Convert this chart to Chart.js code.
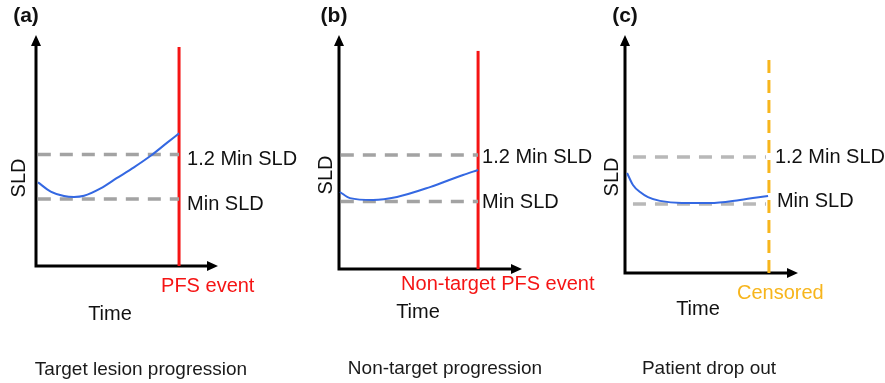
<!DOCTYPE html>
<html>
<head>
<meta charset="utf-8">
<script src="https://cdn.jsdelivr.net/npm/chart.js@4.4.1/dist/chart.umd.min.js"></script>
<style>
  html, body { margin: 0; padding: 0; background: #fff; }
  #wrap { position: relative; width: 885px; height: 383px; }
  #wrap canvas { position: absolute; left: 0; top: 0; }
</style>
</head>
<body>
<div id="wrap">
  <canvas id="chartA" width="885" height="383"></canvas>
  <canvas id="chartB" width="885" height="383"></canvas>
  <canvas id="chartC" width="885" height="383"></canvas>
</div>
<script>
// ---- data (arbitrary units, axes run 0..10) ----
const panelLabels = ['(a)', '(b)', '(c)'];
const captions = ['Target lesion progression', 'Non-target progression', 'Patient drop out'];
const eventLabels = ['PFS event', 'Non-target PFS event', 'Censored'];
const thresholdLabels = ['1.2 Min SLD', 'Min SLD'];
const axisLabels = ['Time', 'SLD'];

const timeA = [0.11, 0.81, 1.54, 2.09, 2.64, 3.55, 4.43, 5.38, 6.30, 7.21, 7.86];
const sldA  = [3.62, 3.22, 3.03, 2.99, 3.04, 3.36, 3.80, 4.27, 4.77, 5.34, 5.74];
const timeB = [0.05, 0.60, 1.86, 3.17, 4.97, 6.78, 7.60];
const sldB  = [3.29, 3.03, 2.95, 3.08, 3.50, 4.02, 4.23];
const timeC = [0.12, 0.46, 0.87, 1.33, 2.02, 3.29, 4.91, 6.65, 8.27];
const sldC  = [4.20, 3.70, 3.40, 3.19, 3.03, 2.94, 2.94, 3.07, 3.24];

const minSld   = [2.90, 2.88, 2.90];
const minSld12 = [4.83, 4.87, 4.87];
const eventTime = [7.86, 7.60, 8.32];
const eventTop  = [9.48, 9.32, 9.24];
const dashFrom  = [0.1, 0.1, 0.46];
const dashTo    = [7.86, 7.60, 8.15];

const times = [timeA, timeB, timeC];
const slds = [sldA, sldB, sldC];

// ---- layout / styling per panel ----
const W = 885, H = 383;
const FONT = '"Liberation Sans", Arial, sans-serif';
const layouts = [
  { id: 'chartA', left: 36, right: 218, top: 35, bottom: 266,
    eventColor: '#f51414', eventDash: [], gray: '#a3a3a3',
    hiGap: 8, loGap: 8, hiDy: 5.5, loDy: 5,
    evText: { dx: -18, dy: 20 }, time: { dx: 74, dy: 48 },
    sld: { dx: -16.5, y: 178 }, letter: { x: 26, y: 16 }, caption: { x: 141, y: 370 } },
  { id: 'chartB', left: 339, right: 522, top: 35, bottom: 269,
    eventColor: '#f51414', eventDash: [], gray: '#a3a3a3',
    hiGap: 4, loGap: 4, hiDy: 2, loDy: 0.5,
    evText: { dx: -77, dy: 15.5 }, time: { dx: 79, dy: 43.5 },
    sld: { dx: -13, y: 175 }, letter: { x: 334, y: 16.5 }, caption: { x: 445, y: 369 } },
  { id: 'chartC', left: 625, right: 798, top: 35, bottom: 273,
    eventColor: '#f7b51c', eventDash: [13, 7], gray: '#b8b8b8',
    hiGap: 6, loGap: 8, hiDy: 0, loDy: -2,
    evText: { dx: -32, dy: 20 }, time: { dx: 73, dy: 36.5 },
    sld: { dx: -12.5, y: 177 }, letter: { x: 625, y: 16 }, caption: { x: 709, y: 369 } }
];

Chart.defaults.font.family = FONT;

function axesPlugin(lay) {
  return {
    id: 'arrowAxes',
    beforeDatasetsDraw(chart) {
      const { ctx, chartArea: a } = chart;
      const head = 11, half = 5;
      ctx.save();
      ctx.strokeStyle = '#000';
      ctx.fillStyle = '#000';
      ctx.lineWidth = 3;
      ctx.beginPath();
      ctx.moveTo(a.left, a.bottom + 1.5);
      ctx.lineTo(a.left, a.top + head);
      ctx.moveTo(a.left - 1.5, a.bottom);
      ctx.lineTo(a.right - head, a.bottom);
      ctx.stroke();
      ctx.beginPath();
      ctx.moveTo(a.left, a.top);
      ctx.lineTo(a.left - half, a.top + head);
      ctx.lineTo(a.left + half, a.top + head);
      ctx.closePath();
      ctx.moveTo(a.right, a.bottom);
      ctx.lineTo(a.right - head, a.bottom - half);
      ctx.lineTo(a.right - head, a.bottom + half);
      ctx.closePath();
      ctx.fill();
      ctx.restore();
    }
  };
}

function textPlugin(i, lay) {
  return {
    id: 'panelText',
    afterDraw(chart) {
      const { ctx, chartArea: a } = chart;
      const xs = chart.scales.x, ys = chart.scales.y;
      const ex = xs.getPixelForValue(eventTime[i]);
      ctx.save();
      ctx.textBaseline = 'middle';
      ctx.fillStyle = '#111';
      ctx.font = '20px ' + FONT;
      ctx.textAlign = 'left';
      ctx.fillText(thresholdLabels[0], ex + lay.hiGap, ys.getPixelForValue(minSld12[i]) + lay.hiDy);
      ctx.fillText(thresholdLabels[1], ex + lay.loGap, ys.getPixelForValue(minSld[i]) + lay.loDy);

      ctx.fillStyle = lay.eventColor;
      ctx.fillText(eventLabels[i], ex + lay.evText.dx, a.bottom + lay.evText.dy);

      ctx.fillStyle = '#111';
      ctx.textAlign = 'center';
      ctx.fillText(axisLabels[0], a.left + lay.time.dx, a.bottom + lay.time.dy);

      ctx.save();
      ctx.translate(a.left + lay.sld.dx, lay.sld.y);
      ctx.rotate(-Math.PI / 2);
      ctx.fillText(axisLabels[1], 0, 0);
      ctx.restore();

      ctx.font = 'bold 21px ' + FONT;
      ctx.fillText(panelLabels[i], lay.letter.x, lay.letter.y);

      ctx.font = '19px ' + FONT;
      ctx.fillStyle = '#1a1a1a';
      ctx.fillText(captions[i], lay.caption.x, lay.caption.y);
      ctx.restore();
    }
  };
}

layouts.forEach((lay, i) => {
  const curve = times[i].map((t, k) => ({ x: t, y: slds[i][k] }));
  new Chart(document.getElementById(lay.id), {
    type: 'line',
    data: {
      datasets: [
        { data: curve, borderColor: '#3468e2', borderWidth: 2, cubicInterpolationMode: 'monotone' },
        { data: [{ x: dashFrom[i], y: minSld12[i] }, { x: dashTo[i], y: minSld12[i] }],
          borderColor: lay.gray, borderWidth: 3.5, borderDash: [13, 9] },
        { data: [{ x: dashFrom[i], y: minSld[i] }, { x: dashTo[i], y: minSld[i] }],
          borderColor: lay.gray, borderWidth: 3.5, borderDash: [13, 9] },
        { data: [{ x: eventTime[i], y: 0 }, { x: eventTime[i], y: eventTop[i] }],
          borderColor: lay.eventColor, borderWidth: 3, borderDash: lay.eventDash }
      ]
    },
    options: {
      responsive: false,
      animation: false,
      layout: { padding: { left: lay.left, right: W - lay.right, top: lay.top, bottom: H - lay.bottom } },
      scales: {
        x: { type: 'linear', min: 0, max: 10, display: false },
        y: { type: 'linear', min: 0, max: 10, display: false }
      },
      elements: { point: { radius: 0 } },
      plugins: { legend: { display: false }, tooltip: { enabled: false } }
    },
    plugins: [axesPlugin(lay), textPlugin(i, lay)]
  });
});
</script>
</body>
</html>
